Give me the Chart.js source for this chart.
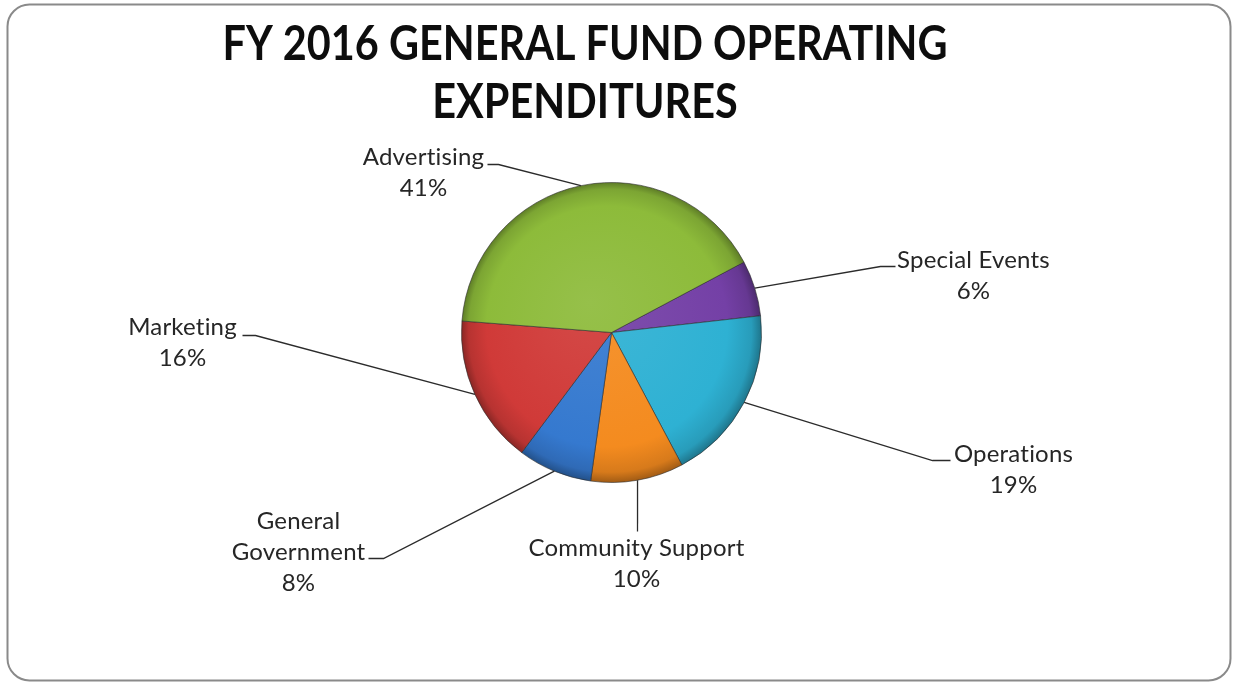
<!DOCTYPE html>
<html>
<head>
<meta charset="utf-8">
<script src="https://cdn.jsdelivr.net/npm/chart.js@4/dist/chart.umd.min.js"></script>
<style>
  html, body { margin: 0; padding: 0; background: #ffffff; overflow: hidden; }
  #wrap { position: relative; width: 1233px; height: 683px; }
</style>
</head>
<body>
<div id="wrap"><canvas id="c" width="1233" height="683"></canvas></div>
<script>
// Expenditure categories, clockwise from the Special Events slice
const categories = ['Special Events', 'Operations', 'Community Support', 'General Government', 'Marketing', 'Advertising'];
// Share of operating expenditures, percent
const shares = [6, 19, 10, 8, 16, 41];
// Category names as wrapped in the data labels
const labelLines = [['Special Events'], ['Operations'], ['Community Support'], ['General', 'Government'], ['Marketing'], ['Advertising']];
const titleLines = ['FY 2016 GENERAL FUND OPERATING', 'EXPENDITURES'];
const sliceColors = ['#7440A6', '#2EB1D3', '#F48B1F', '#3579CF', '#D03A38', '#8DBB3A'];

// Label placement relative to the pie centre (px): first text line centre,
// the elbow where the leader line arrives, and the end of the short tick.
const labelLayout = [
  { tx: 362, ty: -72, ex: 269, ey: -66, kx: 284, ky: -66 },
  { tx: 402, ty: 122, ex: 321, ey: 128, kx: 339, ky: 128 },
  { tx: 25,  ty: 216, ex: 26,  ey: 199, kx: 26,  ky: 199 },
  { tx: -313, ty: 189, ex: -228, ey: 226, kx: -243, ky: 226 },
  { tx: -429, ty: -5, ex: -356, ey: 3, kx: -369, ky: 3 },
  { tx: -188, ty: -175, ex: -113, ey: -168, kx: -124, ky: -168 }
];
const LINE_GAP = 31;

function shade(hex, amt) {
  const n = parseInt(hex.slice(1), 16);
  let r = (n >> 16) & 255, g = (n >> 8) & 255, b = n & 255;
  const t = amt < 0 ? 0 : 255, p = Math.abs(amt);
  r = Math.round(r + (t - r) * p); g = Math.round(g + (t - g) * p); b = Math.round(b + (t - b) * p);
  return 'rgb(' + r + ',' + g + ',' + b + ')';
}

function sliceFill(ctx) {
  const chart = ctx.chart, area = chart.chartArea, base = sliceColors[ctx.dataIndex];
  if (!area) return base;
  const cx = (area.left + area.right) / 2, cy = (area.top + area.bottom) / 2;
  const r = Math.min(area.right - area.left, area.bottom - area.top) / 2;
  const g = chart.ctx.createRadialGradient(cx - r * 0.15, cy - r * 0.2, 0, cx, cy, r);
  g.addColorStop(0, shade(base, 0.08));
  g.addColorStop(0.8, base);
  g.addColorStop(0.94, shade(base, -0.12));
  g.addColorStop(1, shade(base, -0.35));
  return g;
}

// Frame and title
const framePlugin = {
  id: 'frame',
  beforeDraw(chart) {
    const c = chart.ctx;
    c.save();
    c.fillStyle = '#ffffff';
    c.fillRect(0, 0, chart.width, chart.height);
    const x = 7.5, y = 4.5, w = 1223, h = 676, r = 22;
    c.beginPath();
    c.moveTo(x + r, y);
    c.arcTo(x + w, y, x + w, y + h, r);
    c.arcTo(x + w, y + h, x, y + h, r);
    c.arcTo(x, y + h, x, y, r);
    c.arcTo(x, y, x + w, y, r);
    c.closePath();
    c.lineWidth = 2;
    c.strokeStyle = '#8a8a8a';
    c.stroke();

    c.fillStyle = '#0d0d0d';
    c.font = 'bold 47px Lato';
    c.textAlign = 'center';
    c.textBaseline = 'alphabetic';
    const targetW = 725;
    const sx = targetW / c.measureText(titleLines[0]).width;
    const baselines = [60, 118];
    titleLines.forEach((t, i) => {
      c.save();
      c.translate(585, baselines[i]);
      c.scale(sx, 1);
      c.fillText(t, 0, 0);
      c.restore();
    });
    c.restore();
  }
};

// Data labels with leader lines from each slice's outer mid-point
const labelPlugin = {
  id: 'pieLabels',
  afterDatasetsDraw(chart) {
    const c = chart.ctx;
    const meta = chart.getDatasetMeta(0);
    c.save();
    meta.data.forEach((arc, i) => {
      const p = arc.getProps(['x', 'y', 'startAngle', 'endAngle', 'outerRadius'], true);
      const mid = (p.startAngle + p.endAngle) / 2;
      const ax = p.x + Math.cos(mid) * p.outerRadius;
      const ay = p.y + Math.sin(mid) * p.outerRadius;
      const L = labelLayout[i];
      c.beginPath();
      c.moveTo(ax, ay);
      c.lineTo(p.x + L.ex, p.y + L.ey);
      c.lineTo(p.x + L.kx, p.y + L.ky);
      c.lineWidth = 1.3;
      c.strokeStyle = '#2b2b2b';
      c.stroke();

      const lines = labelLines[i].concat([shares[i] + '%']);
      c.fillStyle = '#262626';
      c.font = '24px Lato';
      if ('letterSpacing' in c) c.letterSpacing = '0.2px';
      c.textAlign = 'center';
      c.textBaseline = 'middle';
      lines.forEach((t, k) => c.fillText(t, p.x + L.tx, p.y + L.ty + k * LINE_GAP));
    });
    c.restore();
  }
};

new Chart(document.getElementById('c'), {
  type: 'pie',
  data: {
    labels: categories,
    datasets: [{
      data: shares,
      backgroundColor: sliceFill,
      borderColor: 'rgba(45,45,45,0.6)',
      borderWidth: 1
    }]
  },
  options: {
    responsive: false,
    animation: false,
    rotation: 62,
    layout: { padding: { left: 461, right: 471, top: 182, bottom: 200 } },
    plugins: {
      legend: { display: false },
      tooltip: { enabled: false },
      title: { display: false }
    }
  },
  plugins: [framePlugin, labelPlugin]
});
</script>
</body>
</html>
